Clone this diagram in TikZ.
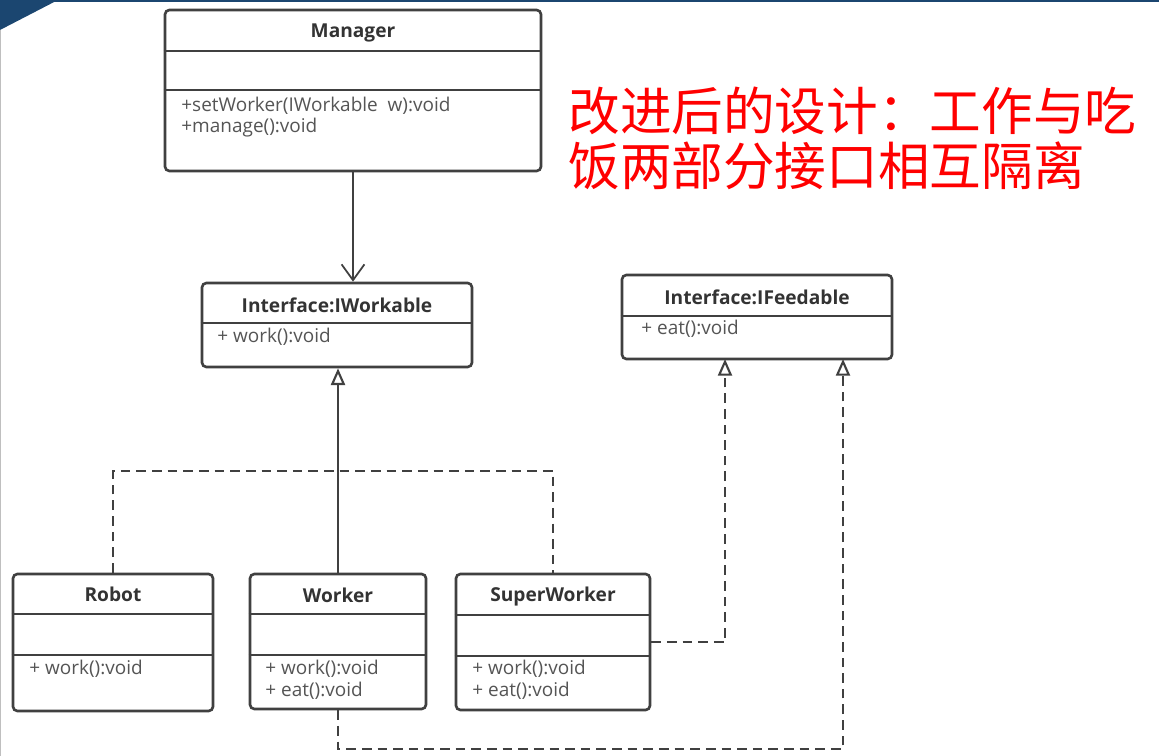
\documentclass[tikz,border=0pt]{standalone}
\usepackage{fontspec}
\setmainfont{Open Sans}
\newfontfamily\cjk{Noto Sans CJK SC}
\usetikzlibrary{arrows.meta,calc}
\definecolor{barblue}{HTML}{1B4670}
\definecolor{linegray}{HTML}{404040}
\definecolor{titlegray}{HTML}{333333}
\definecolor{textgray}{HTML}{555555}
\definecolor{redtxt}{HTML}{FF0000}
\def\u{0.02cm}
\tikzset{
  umlbox/.style={draw=linegray, line width=1.5pt, rounded corners=2.5pt, fill=white, inner sep=0pt},
  divline/.style={draw=linegray, line width=1.5pt},
  titletext/.style={font=\bfseries\fontsize{10.9}{13}\selectfont, text=titlegray, anchor=center, inner sep=0pt},
  methtext/.style={font=\fontsize{10.8}{13}\selectfont, text=textgray, anchor=west, inner sep=0pt},
  conn/.style={draw=linegray, line width=1.4pt},
  dashconn/.style={draw=linegray, line width=1.4pt, dash pattern=on 5.5pt off 3.4pt},
  opentip/.style={-{Straight Barb[length=9pt,width=13pt,line width=1pt]}},
  triangletip/.style={-{Triangle[open,length=9.5pt,width=8pt,line width=1.2pt]}},
  redtext/.style={font=\cjk\fontsize{29.4}{34}\selectfont, text=redtxt, anchor=west, inner sep=0pt}
}
\begin{document}
\begin{tikzpicture}[x=0.02cm,y=-0.02cm]
\useasboundingbox (0,0) rectangle (1159,756);
% page decoration
\fill[white] (0,0) rectangle (1159,756);
\fill[barblue] (0,0) rectangle (1159,2.5);
\fill[barblue] (0,0) -- (58,0) -- (0,30) -- cycle;
\draw[gray!50, line width=1pt] (0.5,30) -- (0.5,756);

% Manager
\node[umlbox, minimum width=376*\u, minimum height=161*\u] (mgr) at (353,90.5) {};
\draw[divline] (mgr.west |- 0,51) -- (mgr.east |- 0,51);
\draw[divline] (mgr.west |- 0,90) -- (mgr.east |- 0,90);
\node[titletext] (mgrt) at (353,32.5) {Manager};
\node[methtext] (mgrm1) at (181,105.5) {+setWorker(IWorkable\ \ w):void};
\node[methtext] (mgrm2) at (181,127.5) {+manage():void};

% IWorkable
\node[umlbox, minimum width=270*\u, minimum height=84*\u] (iw) at (337,325) {};
\draw[divline] (iw.west |- 0,323) -- (iw.east |- 0,323);
\node[titletext] (iwt) at (337,305.5) {Interface:IWorkable};
\node[methtext] (iwm) at (217,336.5) {+ work():void};

% IFeedable
\node[umlbox, minimum width=270*\u, minimum height=84*\u] (if) at (757,317) {};
\draw[divline] (if.west |- 0,316) -- (if.east |- 0,316);
\node[titletext] (ift) at (757,297.5) {Interface:IFeedable};
\node[methtext] (ifm) at (641,328.5) {+ eat():void};

% Robot
\node[umlbox, minimum width=200*\u, minimum height=137*\u] (rb) at (113,642.5) {};
\draw[divline] (rb.west |- 0,614) -- (rb.east |- 0,614);
\draw[divline] (rb.west |- 0,655) -- (rb.east |- 0,655);
\node[titletext] (rbt) at (113,594.5) {Robot};
\node[methtext] (rbm) at (29,668.5) {+ work():void};

% Worker
\node[umlbox, minimum width=176*\u, minimum height=135*\u] (wk) at (338,641.5) {};
\draw[divline] (wk.west |- 0,614) -- (wk.east |- 0,614);
\draw[divline] (wk.west |- 0,655) -- (wk.east |- 0,655);
\node[titletext] (wkt) at (338,595.5) {Worker};
\node[methtext] (wkm1) at (265,668.5) {+ work():void};
\node[methtext] (wkm2) at (265,690.5) {+ eat():void};

% SuperWorker
\node[umlbox, minimum width=194*\u, minimum height=136*\u] (sw) at (553,642) {};
\draw[divline] (sw.west |- 0,615) -- (sw.east |- 0,615);
\draw[divline] (sw.west |- 0,656) -- (sw.east |- 0,656);
\node[titletext] (swt) at (553,596.5) {SuperWorker};
\node[methtext] (swm1) at (472,668.5) {+ work():void};
\node[methtext] (swm2) at (472,690.5) {+ eat():void};

% helper coordinates
\coordinate (jn) at (338,471);
\coordinate (f1) at (725,359);
\coordinate (f2) at (843,359);
\coordinate (b1) at (338,749);

% connectors
\draw[conn, opentip] (mgr.south) -- (mgr.south |- iw.north);
\draw[dashconn] (rb.north) |- (jn) -| (sw.north);
\draw[conn, triangletip] (wk.north) -- (wk.north |- iw.south);
\draw[dashconn, triangletip] (sw.east) -| (f1);
\draw[dashconn, triangletip] (wk.south) |- (b1) -| (f2);

% red annotation
\node[redtext] (note1) at (568,111) {改进后的设计：工作与吃};
\node[redtext] (note2) at (568,166) {饭两部分接口相互隔离};
\end{tikzpicture}
\end{document}
